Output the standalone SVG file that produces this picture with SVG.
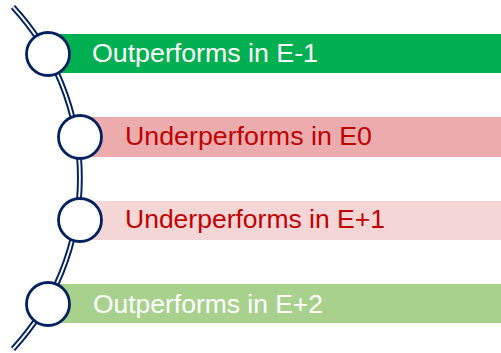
<svg xmlns="http://www.w3.org/2000/svg" width="501" height="353" viewBox="0 0 501 353">
<style>
.bar{stroke:none}
.node{fill:#fff;stroke:#002060;stroke-width:2.8}
.lbl{font-family:"Liberation Sans",Arial,sans-serif;font-size:25px}
.w{fill:#fff}
.r{fill:#C00000}
</style>
<rect width="501" height="353" fill="#fff"/>
<g id="connectors" fill="none">
<path d="M 13 7 A 252 252 0 0 1 13 349" stroke="#002060" stroke-width="5.8"/>
<path d="M 13 7 A 252 252 0 0 1 13 349" stroke="#fff" stroke-width="1.9"/>
</g>
<g id="n1">
<rect class="bar" x="48" y="34" width="453" height="39" fill="#00B050"/>
<circle class="node" cx="48" cy="54" r="21.5"/>
<text class="lbl w" x="92" y="62" textLength="226" lengthAdjust="spacingAndGlyphs">Outperforms in E-1</text>
</g>
<g id="n2">
<rect class="bar" x="80" y="117" width="421" height="40" fill="#ECACAD"/>
<circle class="node" cx="80" cy="137" r="21.5"/>
<text class="lbl r" x="125" y="145" textLength="247" lengthAdjust="spacingAndGlyphs">Underperforms in E0</text>
</g>
<g id="n3">
<rect class="bar" x="80" y="201" width="421" height="39" fill="#F4D6D7"/>
<circle class="node" cx="80" cy="220" r="21.5"/>
<text class="lbl r" x="125" y="228" textLength="260" lengthAdjust="spacingAndGlyphs">Underperforms in E+1</text>
</g>
<g id="n4">
<rect class="bar" x="48" y="284" width="453" height="39" fill="#A9D18E"/>
<circle class="node" cx="48" cy="304" r="21.5"/>
<text class="lbl w" x="93" y="313" textLength="230" lengthAdjust="spacingAndGlyphs">Outperforms in E+2</text>
</g>
</svg>
